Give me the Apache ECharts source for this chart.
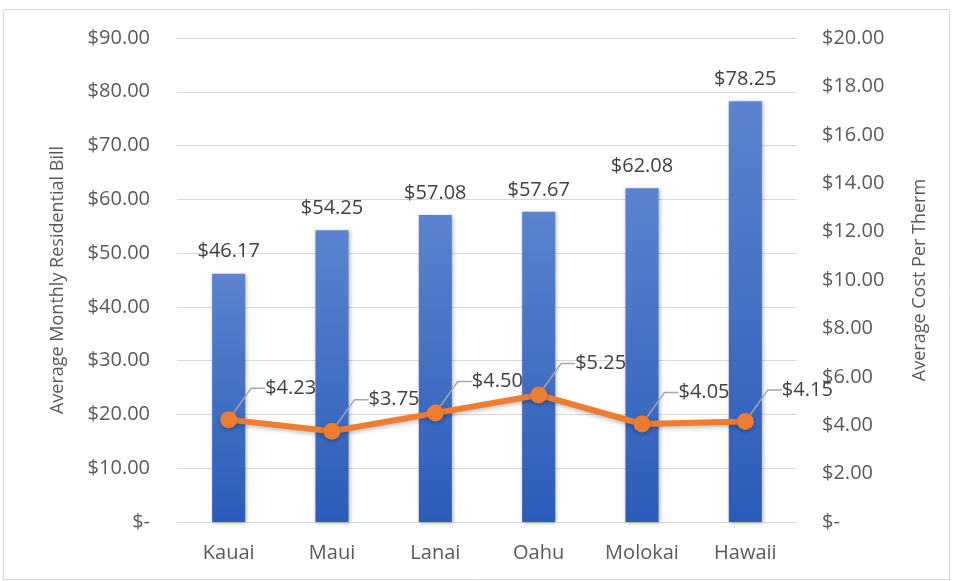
<!DOCTYPE html>
<html>
<head>
<meta charset="utf-8">
<script src="https://cdn.jsdelivr.net/npm/echarts@6/dist/echarts.min.js"></script>
<style>
  html, body { margin: 0; padding: 0; background: #fff; }
  #chart { width: 956px; height: 581px; }
</style>
</head>
<body>
<div id="chart"></div>
<script>
const islands = ['Kauai', 'Maui', 'Lanai', 'Oahu', 'Molokai', 'Hawaii'];
const monthlyBill = [46.17, 54.25, 57.08, 57.67, 62.08, 78.25];
const costPerTherm = [4.23, 3.75, 4.50, 5.25, 4.05, 4.15];

const textColor = '#595959';
const labelColor = '#404040';
const fontFamily = '"Open Sans", sans-serif';

const money = v => (v === 0 ? '$-' : '$' + v.toFixed(2));

const chart = echarts.init(document.getElementById('chart'), null, { renderer: 'canvas' });

chart.setOption({
	animation: false,
	textStyle: { fontFamily },
	graphic: [{
		type: 'rect',
		shape: { x: 3.5, y: 9.5, width: 946, height: 570 },
		style: { fill: 'none', stroke: '#d9d9d9', lineWidth: 1 },
		silent: true
	}],
	grid: { left: 177, right: 159, top: 38, bottom: 59 },
	xAxis: {
		type: 'category',
		data: islands,
		axisTick: { show: false },
		axisLine: { lineStyle: { color: '#d9d9d9', width: 1 } },
		axisLabel: { color: textColor, fontSize: 20, margin: 21, fontFamily }
	},
	yAxis: [{
		type: 'value',
		min: 0,
		max: 90,
		interval: 10,
		name: 'Average Monthly Residential Bill',
		nameLocation: 'middle',
		nameGap: 110,
		nameTextStyle: { color: textColor, fontSize: 18, fontFamily },
		axisLabel: { color: textColor, fontSize: 20, margin: 27, formatter: money, fontFamily },
		splitLine: { lineStyle: { color: '#d9d9d9', width: 1 } },
		axisLine: { show: false },
		axisTick: { show: false }
	}, {
		type: 'value',
		min: 0,
		max: 20,
		interval: 2,
		name: 'Average Cost Per Therm',
		nameLocation: 'middle',
		nameGap: 114,
		nameRotate: 90,
		nameTextStyle: { color: textColor, fontSize: 18, fontFamily },
		axisLabel: { color: textColor, fontSize: 20, margin: 25, formatter: money, fontFamily },
		splitLine: { show: false },
		axisLine: { show: false },
		axisTick: { show: false }
	}],
	series: [{
		name: 'Average Monthly Residential Bill',
		type: 'bar',
		data: monthlyBill,
		barWidth: '32%',
		itemStyle: {
			color: new echarts.graphic.LinearGradient(0, 0, 0, 1, [
				{ offset: 0, color: '#5b83cf' },
				{ offset: 1, color: '#2c5cba' }
			]),
			shadowColor: 'rgba(0,0,0,0.3)',
			shadowBlur: 4,
			shadowOffsetX: 1,
			shadowOffsetY: 1
		},
		label: {
			show: true,
			position: 'top',
			distance: 12,
			color: labelColor,
			fontSize: 20,
			fontFamily,
			formatter: p => money(p.value)
		}
	}, {
		name: 'Average Cost Per Therm',
		type: 'line',
		yAxisIndex: 1,
		data: costPerTherm,
		symbol: 'circle',
		symbolSize: 17,
		z: 5,
		lineStyle: {
			color: '#ed7d31',
			width: 6,
			shadowColor: 'rgba(0,0,0,0.25)',
			shadowBlur: 4,
			shadowOffsetY: 2
		},
		itemStyle: {
			color: '#ed7d31',
			shadowColor: 'rgba(0,0,0,0.25)',
			shadowBlur: 4,
			shadowOffsetY: 2
		},
		label: {
			show: true,
			position: 'top',
			color: labelColor,
			fontSize: 20,
			fontFamily,
			formatter: p => money(p.value)
		},
		labelLayout: { dx: 62, dy: -8 },
		labelLine: {
			show: true,
			length2: 14,
			lineStyle: { color: '#a6a6a6', width: 1.5 }
		}
	}]
});
</script>
</body>
</html>
